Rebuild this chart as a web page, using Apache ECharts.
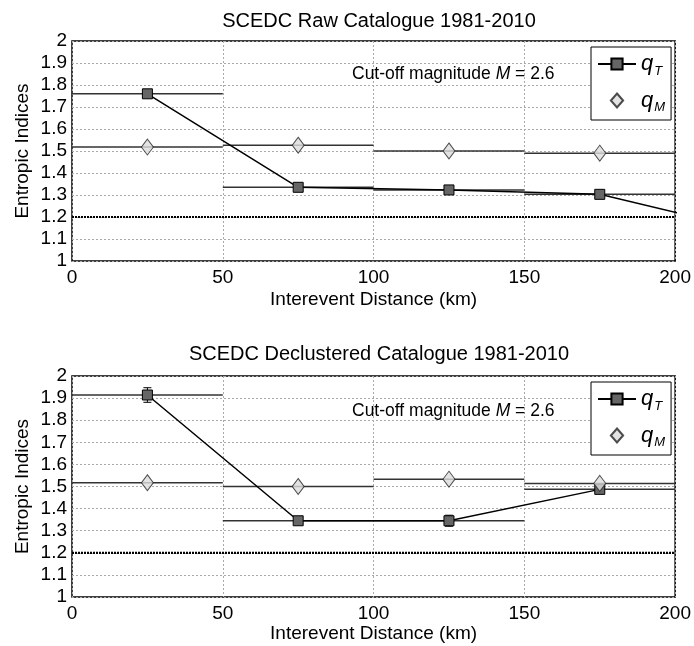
<!DOCTYPE html>
<html>
<head>
<meta charset="utf-8">
<title>SCEDC entropic indices</title>
<script src="https://cdn.jsdelivr.net/npm/echarts@6/dist/echarts.min.js"></script>
<style>
  html, body { margin: 0; padding: 0; background: #fff; }
  #chart { width: 694px; height: 646px; }
</style>
</head>
<body>
<div id="chart"></div>
<script>
// bins of interevent distance (km)
const binCentres = [25, 75, 125, 175];
const binEdges = [0, 50, 100, 150, 200];

// raw catalogue
const rawQT = [1.76, 1.335, 1.323, 1.303];
const rawQTErr = [0.012, 0, 0, 0];
const rawQM = [1.518, 1.526, 1.50, 1.49];
// next bin (225 km) lies off the right edge, only its line shows
const rawNextCentre = 225;
const rawNextQT = 1.14;

// declustered catalogue
const decQT = [1.914, 1.345, 1.345, 1.487];
const decQTErr = [0.033, 0, 0.025, 0.01];
const decQM = [1.517, 1.50, 1.533, 1.514];

const qLimit = 1.2;
const cutOff = 2.6;

const FONT = 'Liberation Sans, Arial, Helvetica, sans-serif';

// horizontal segment [x0, x1, y]
function segment(color, width, dash) {
  return function (params, api) {
    const a = api.coord([api.value(0), api.value(2)]);
    const b = api.coord([api.value(1), api.value(2)]);
    return {
      type: 'line',
      shape: { x1: a[0], y1: a[1], x2: b[0], y2: b[1] },
      style: { stroke: color, lineWidth: width, lineDash: dash || null }
    };
  };
}

function errorBar(params, api) {
  const x = api.value(0), y = api.value(1), e = api.value(2);
  if (!e) return null;
  const hi = api.coord([x, y + e]);
  const lo = api.coord([x, y - e]);
  const w = 4;
  const st = { stroke: '#000', lineWidth: 1 };
  return {
    type: 'group',
    children: [
      { type: 'line', shape: { x1: hi[0], y1: hi[1], x2: lo[0], y2: lo[1] }, style: st },
      { type: 'line', shape: { x1: hi[0] - w, y1: hi[1], x2: hi[0] + w, y2: hi[1] }, style: st },
      { type: 'line', shape: { x1: lo[0] - w, y1: lo[1], x2: lo[0] + w, y2: lo[1] }, style: st }
    ]
  };
}

function steps(values) {
  return values.map((v, i) => [binEdges[i], binEdges[i + 1], v]);
}

function plotSeries(idx, qT, qTErr, qM, extra) {
  const lineData = binCentres.map((x, i) => [x, qT[i]]);
  if (extra) lineData.push(extra);
  return [
    {
      type: 'custom', xAxisIndex: idx, yAxisIndex: idx, z: 2,
      renderItem: segment('#333', 1.5), encode: { x: [0, 1], y: 2 },
      data: steps(qT), silent: true
    },
    {
      type: 'custom', xAxisIndex: idx, yAxisIndex: idx, z: 2,
      renderItem: segment('#333', 1.5), encode: { x: [0, 1], y: 2 },
      data: steps(qM), silent: true
    },
    {
      type: 'custom', xAxisIndex: idx, yAxisIndex: idx, z: 2,
      renderItem: segment('#000', 2.2, [2, 1]), encode: { x: [0, 1], y: 2 },
      data: [[binEdges[0], binEdges[binEdges.length - 1], qLimit]], silent: true
    },
    {
      type: 'custom', xAxisIndex: idx, yAxisIndex: idx, z: 3,
      renderItem: errorBar, encode: { x: 0, y: 1 },
      data: binCentres.map((x, i) => [x, qT[i], qTErr[i]]), silent: true
    },
    {
      name: 'qT', type: 'line', xAxisIndex: idx, yAxisIndex: idx, z: 4,
      data: lineData, symbol: 'rect', symbolSize: 10,
      lineStyle: { color: '#000', width: 1.5 },
      itemStyle: { color: '#666', borderColor: '#000', borderWidth: 1 },
      clip: true, animation: false
    },
    {
      name: 'qM', type: 'scatter', xAxisIndex: idx, yAxisIndex: idx, z: 5,
      data: binCentres.map((x, i) => [x, qM[i]]),
      symbol: 'diamond', symbolSize: [12, 16], symbolKeepAspect: true,
      itemStyle: { color: '#dcdcdc', borderColor: '#222', borderWidth: 1 },
      animation: false
    }
  ];
}

function xAxis(idx, gap) {
  return {
    type: 'value', gridIndex: idx, min: 0, max: 200, interval: 50,
    name: 'Interevent Distance (km)', nameLocation: 'middle', nameGap: gap,
    nameTextStyle: { fontSize: 19, color: '#000', fontFamily: FONT },
    axisLine: { show: false }, axisTick: { show: false },
    axisLabel: { fontSize: 19, color: '#000', margin: 7, fontFamily: FONT },
    splitLine: { show: true, lineStyle: { color: '#aaa', type: [2, 2], width: 1 } }
  };
}

function yAxis(idx) {
  return {
    type: 'value', gridIndex: idx, min: 1, max: 2, interval: 0.1,
    name: 'Entropic Indices', nameLocation: 'middle', nameGap: 40,
    nameMoveOverlap: false,
    nameTextStyle: { fontSize: 19, color: '#000', fontFamily: FONT },
    axisLine: { show: false }, axisTick: { show: false },
    axisLabel: { fontSize: 19, color: '#000', margin: 5, fontFamily: FONT },
    splitLine: { show: true, lineStyle: { color: '#aaa', type: [2, 2], width: 1 } }
  };
}

function legend(top) {
  return {
    orient: 'vertical', left: 591, top: top,
    padding: [6, 6, 6, 6], itemGap: 12,
    itemWidth: 38, itemHeight: 14,
    symbolKeepAspect: true,
    backgroundColor: '#fff', borderColor: '#000', borderWidth: 1,
    selectedMode: false,
    data: [
      { name: 'qT' },
      { name: 'qM', icon: 'path://M7,0L14,8L7,16L0,8Z' }
    ],
    formatter: n => n === 'qT' ? '{q|q}{s|T}' : '{q|q}{s|M}',
    textStyle: {
      color: '#000', fontFamily: FONT,
      rich: {
        q: { fontSize: 22, fontStyle: 'italic', fontFamily: FONT, color: '#000' },
        s: { fontSize: 13, fontStyle: 'italic', fontFamily: FONT, color: '#000', padding: [14, 0, 0, 1] }
      }
    }
  };
}

function heading(text, top) {
  return {
    text: text, left: 374, top: top, textAlign: 'center',
    textStyle: { fontSize: 20, fontWeight: 'normal', color: '#000', fontFamily: FONT }
  };
}

function cutOffNote(top) {
  return {
    text: 'Cut-off magnitude {i|M} = ' + cutOff.toFixed(1), left: 347, top: top,
    textStyle: {
      fontSize: 17.5, fontWeight: 'normal', color: '#000', fontFamily: FONT,
      rich: { i: { fontSize: 17.5, fontStyle: 'italic', color: '#000', fontFamily: FONT } }
    }
  };
}

const chart = echarts.init(document.getElementById('chart'), null, { renderer: 'canvas' });
chart.setOption({
  backgroundColor: '#fff',
  animation: false,
  title: [
    heading('SCEDC Raw Catalogue 1981-2010', 6),
    heading('SCEDC Declustered Catalogue 1981-2010', 339),
    cutOffNote(60),
    cutOffNote(397)
  ],
  legend: [legend(47), legend(382)],
  grid: [
    { left: 72, top: 41, width: 604, height: 220, show: true, borderColor: '#000', borderWidth: 1.5 },
    { left: 72, top: 376, width: 604, height: 221, show: true, borderColor: '#000', borderWidth: 1.5 }
  ],
  xAxis: [xAxis(0, 29), xAxis(1, 26)],
  yAxis: [yAxis(0), yAxis(1)],
  series: [].concat(
    plotSeries(0, rawQT, rawQTErr, rawQM, [rawNextCentre, rawNextQT]),
    plotSeries(1, decQT, decQTErr, decQM, null)
  )
});
</script>
</body>
</html>
